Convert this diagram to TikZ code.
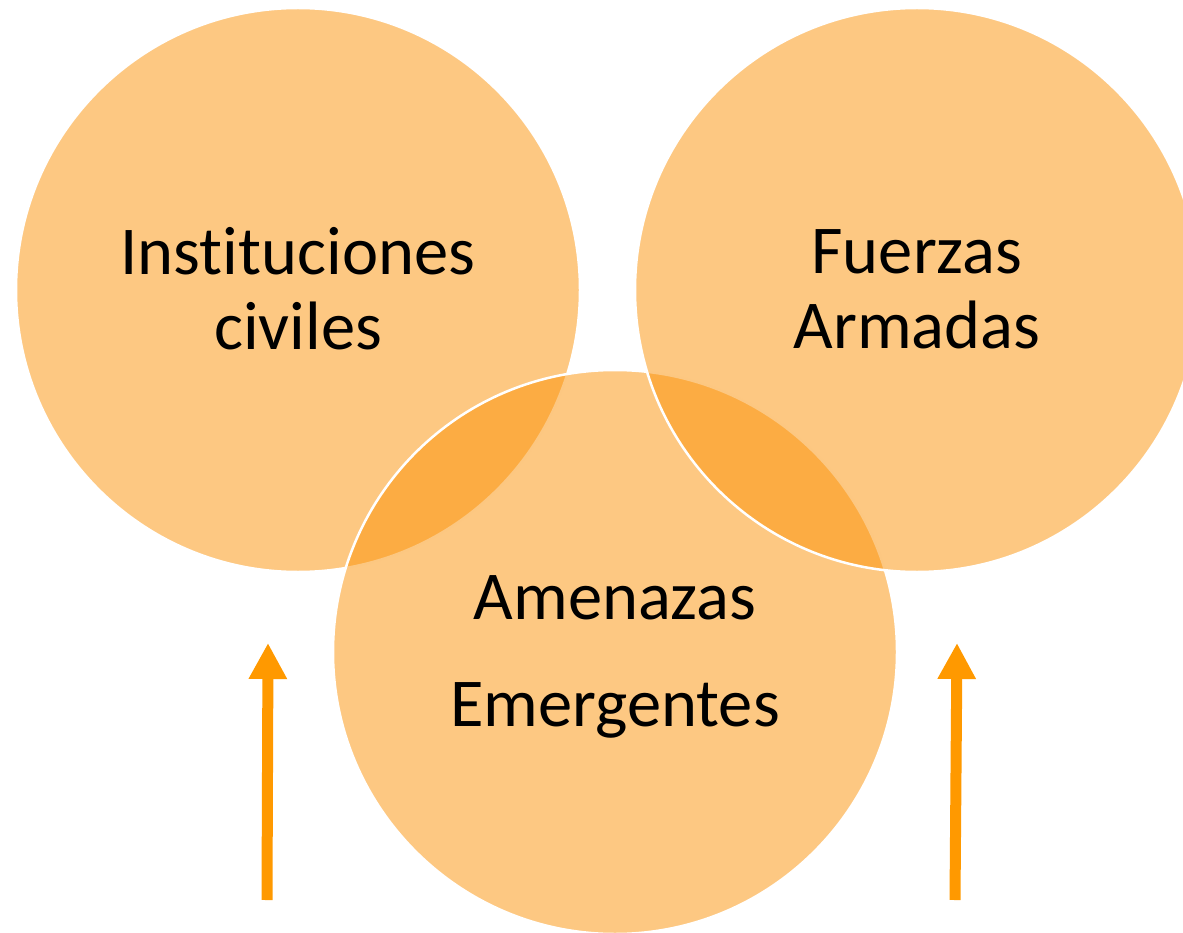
\documentclass[tikz,border=0pt]{standalone}
\usepackage{fontspec}
\setmainfont{Carlito}[Ligatures=NoCommon]
\usetikzlibrary{arrows.meta}
\definecolor{circfill}{RGB}{251,145,5}
\definecolor{arrcol}{RGB}{255,153,0}
\tikzset{
  venn/.style={circle, minimum size=564pt, inner sep=0pt, fill=circfill, fill opacity=0.5, draw=white, draw opacity=1, line width=2.5pt},
  lbl/.style={align=center, text=black, font=\fontsize{68.5}{75}\selectfont},
  lblwide/.style={align=center, text=black, font=\fontsize{68.5}{107}\selectfont},
  uparrow/.style={draw=arrcol, line width=11pt, -{Triangle[length=36pt, width=36pt, fill=arrcol]}}
}
\begin{document}
\begin{tikzpicture}[x=1pt, y=-1pt]
\useasboundingbox (0,0) rectangle (1183,933);
\node[venn] (inst) at (298,290) {};
\node[venn] (amen) at (615,652) {};
\node[venn] (fuer) at (917,290) {};
\node[lbl] (tinst) at (298,289) {Instituciones\\civiles};
\node[lbl] (tfuer) at (917,289) {Fuerzas\\Armadas};
\node[lblwide] (tamen) at (615,657) {Amenazas\\Emergentes};
\coordinate (a1s) at (267,900);
\coordinate (a1e) at (268,643);
\coordinate (a2s) at (955,900);
\coordinate (a2e) at (957,643);
\draw[uparrow] (a1s) -- (a1e);
\draw[uparrow] (a2s) -- (a2e);
\end{tikzpicture}
\end{document}
